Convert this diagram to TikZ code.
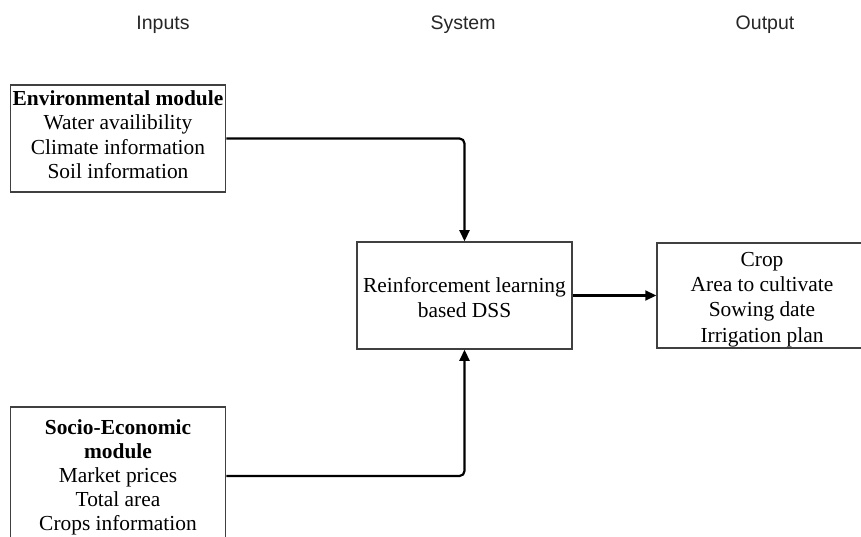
\documentclass[tikz,border=0pt]{standalone}
\usepackage{fontspec}
\setmainfont{Liberation Serif}
\newfontfamily\hdrfont{Liberation Sans}
\usetikzlibrary{arrows.meta}
\begin{document}
\begin{tikzpicture}[x=1pt,y=-1pt,
  box/.style={draw=black!75, line width=1.5pt, inner sep=0pt},
  txt/.style={align=center, inner sep=0pt, font=\fontsize{21.4}{24.5}\selectfont},
  hdr/.style={font=\hdrfont\fontsize{19.5}{23}\selectfont, text=black!85},
  conn/.style={draw=black, line width=2.2pt, rounded corners=5pt, -{Triangle[length=11pt,width=10pt]}}]
\useasboundingbox (0,0) rectangle (861,537);
\clip (0,0) rectangle (861,537);
\fill[white] (0,0) rectangle (861,537);
\node[hdr] (hin) at (163,24.5) {Inputs};
\node[hdr] (hsys) at (463,24.5) {System};
\node[hdr] (hout) at (765,24.5) {Output};
\node[box, minimum width=215pt, minimum height=107pt] (env) at (118,138.5) {};
\node[txt] (envt) at (118,134.5)
  {\textbf{Environmental module}\\Water availibility\\Climate information\\Soil information};
\node[box, minimum width=215pt, minimum height=138pt] (soc) at (118,476) {};
\node[txt, font=\fontsize{21.4}{24}\selectfont] (soct) at (118,477)
  {\textbf{Socio-Economic}\\\textbf{module}\\Market prices\\Total area\\Crops information};
\node[box, minimum width=215pt, minimum height=107pt] (dss) at (464.5,295.5) {};
\node[txt, font=\fontsize{21.4}{25}\selectfont] (dsst) at (464.5,297.5)
  {Reinforcement learning\\based DSS};
\node[box, minimum width=210pt, minimum height=105pt] (out) at (762,295.5) {};
\node[txt, font=\fontsize{21.4}{25.2}\selectfont] (outt) at (762,299.5)
  {Crop\\Area to cultivate\\Sowing date\\Irrigation plan};
\draw[conn] (env.east) -| (dss.north);
\draw[conn] (soc.east) -| (dss.south);
\draw[conn] (dss.east) -- (out.west);
\end{tikzpicture}
\end{document}
